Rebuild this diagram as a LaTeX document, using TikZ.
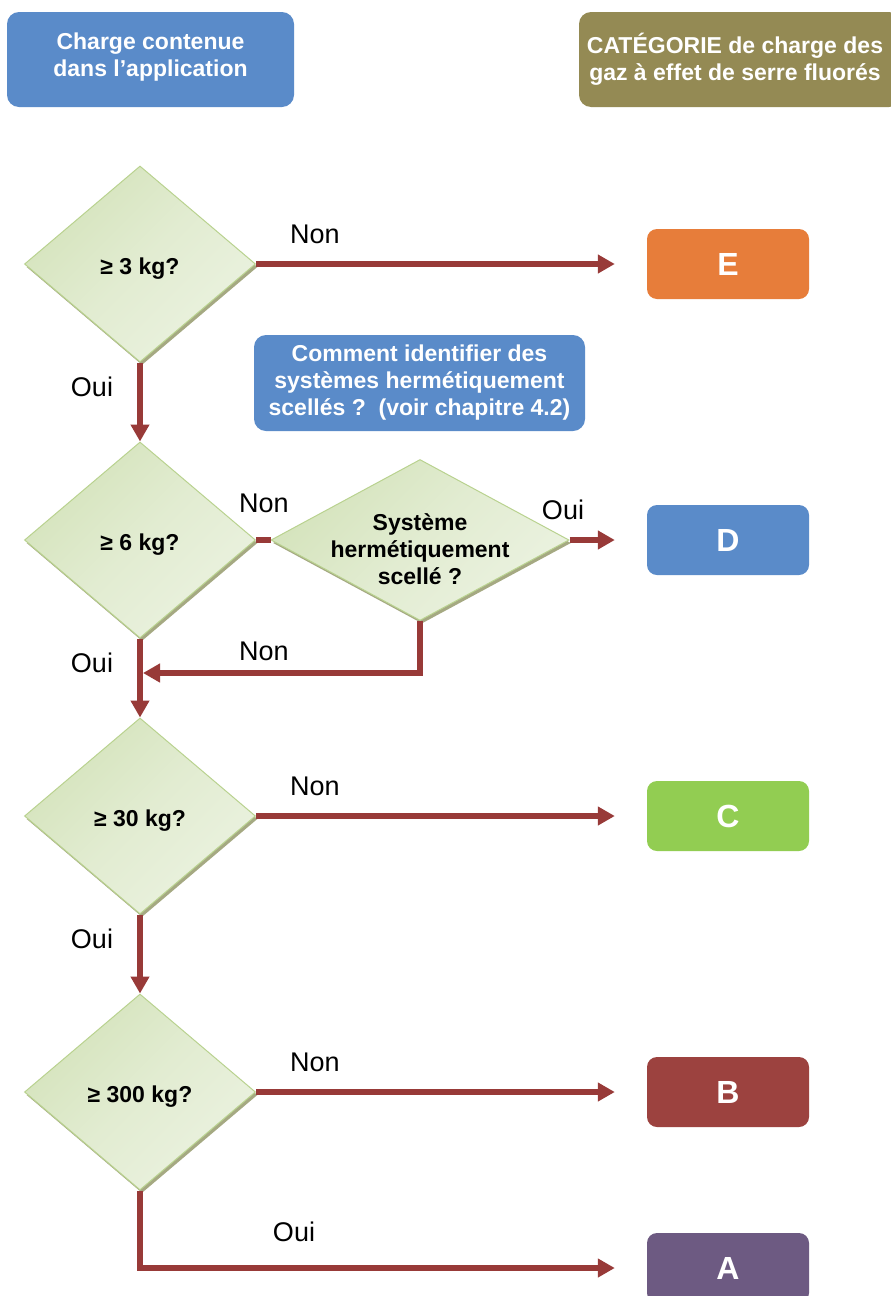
\documentclass[tikz,border=0pt]{standalone}
\usepackage{fontspec}
\setmainfont{Liberation Sans}
\usetikzlibrary{shapes.geometric,arrows.meta,shadows}
\definecolor{hdrblue}{HTML}{5A8BC9}
\definecolor{hdrolive}{HTML}{948A54}
\definecolor{catE}{HTML}{E77D3A}
\definecolor{catD}{HTML}{5A8BC9}
\definecolor{catC}{HTML}{92CD52}
\definecolor{catB}{HTML}{9C423F}
\definecolor{catA}{HTML}{6D5A82}
\definecolor{arrowred}{HTML}{983A38}
\definecolor{diaedge}{HTML}{B9D28F}
\definecolor{diain}{HTML}{EBF2E0}
\definecolor{diaout}{HTML}{D4E3BB}
\definecolor{diashadow}{HTML}{A5A982}
\begin{document}
\begin{tikzpicture}[x=1pt,y=-1pt,
  hdr/.style={rectangle, rounded corners=12pt, inner sep=0pt, text=white,
    font=\bfseries\fontsize{23}{27}\selectfont, align=center},
  catbox/.style={rectangle, rounded corners=10pt, minimum width=162pt, minimum height=70pt,
    inner sep=0pt, text=white, font=\bfseries\fontsize{32}{36}\selectfont},
  dia/.style={diamond, draw=diaedge, line width=1pt, inner sep=0pt,
    top color=diaout, bottom color=diain, middle color=diain!60!diaout, shading angle=45,
    drop shadow={shadow xshift=2pt, shadow yshift=-3pt, fill=diashadow, opacity=1}},
  bigdia/.style={dia, minimum width=231pt, minimum height=196pt},
  qtext/.style={font=\bfseries\fontsize{23}{27}\selectfont, align=center, text=black},
  flowline/.style={draw=arrowred, line width=6pt},
  flow/.style={flowline, -{Triangle[length=17pt,width=18pt]}},
  lbl/.style={font=\fontsize{27}{30}\selectfont, inner sep=0pt}]
\clip (0,0) rectangle (891,1296);
\fill[white] (0,0) rectangle (891,1296);

% headers
\node[hdr, fill=hdrblue, minimum width=287pt, minimum height=95pt,
  label={[qtext, text=white, yshift=2pt]center:{Charge contenue\\dans l’application}}] (h1) at (150.5,59.5) {};
\node[hdr, fill=hdrolive, minimum width=322pt, minimum height=95pt,
  label={[qtext, text=white, xshift=-5pt, yshift=0pt]center:{CATÉGORIE de charge des\\gaz à effet de serre fluorés}}] (h2) at (740,59.5) {};

% note
\node[hdr, fill=hdrblue, minimum width=331pt, minimum height=96pt] (note) at (419.5,383)
  {Comment identifier des\\systèmes hermétiquement\\scellés ?\ \ (voir chapitre 4.2)};

% diamonds
\node[bigdia, label={[qtext, yshift=-5pt]center:{≥ 3 kg?}}] (d1) at (140,264) {};
\node[bigdia, label={[qtext, yshift=-5pt]center:{≥ 6 kg?}}] (d2) at (140,540) {};
\node[dia, minimum width=298pt, minimum height=161pt,
  label={[qtext, yshift=-9pt]center:{Système\\hermétiquement\\scellé ?}}] (d3) at (420,540) {};
\node[bigdia, label={[qtext, yshift=-5pt]center:{≥ 30 kg?}}] (d4) at (140,816) {};
\node[bigdia, label={[qtext, yshift=-5pt]center:{≥ 300 kg?}}] (d5) at (140,1092) {};

% categories
\node[catbox, fill=catE] (E) at (728,264) {E};
\node[catbox, fill=catD] (D) at (728,540) {D};
\node[catbox, fill=catC] (C) at (728,816) {C};
\node[catbox, fill=catB] (B) at (728,1092) {B};
\node[catbox, fill=catA] (A) at (728,1268) {A};

\coordinate (j) at (140,673);

% connectors
\draw[flow, shorten >=32pt] (d1.east) -- (E.west);
\draw[flow] (d1.south) -- (d2.north);
\draw[flowline] (d2.east) -- (d3.west);
\draw[flow, shorten >=32pt] (d3.east) -- (D.west);
\draw[flow, shorten >=3pt] (d3.south) |- (j);
\draw[flow] (d2.south) -- (d4.north);
\draw[flow, shorten >=32pt] (d4.east) -- (C.west);
\draw[flow] (d4.south) -- (d5.north);
\draw[flow, shorten >=32pt] (d5.east) -- (B.west);
\draw[flow, shorten >=32pt] (d5.south) |- (A.west);

% labels
\node[lbl] (n1) at (315,234) {Non};
\node[lbl] (o1) at (92,387) {Oui};
\node[lbl] (n2) at (264,503) {Non};
\node[lbl] (o2) at (563,510) {Oui};
\node[lbl] (n3) at (264,651) {Non};
\node[lbl] (o3) at (92,663) {Oui};
\node[lbl] (n4) at (315,786) {Non};
\node[lbl] (o4) at (92,939) {Oui};
\node[lbl] (n5) at (315,1062) {Non};
\node[lbl] (o5) at (294,1232) {Oui};
\end{tikzpicture}
\end{document}
